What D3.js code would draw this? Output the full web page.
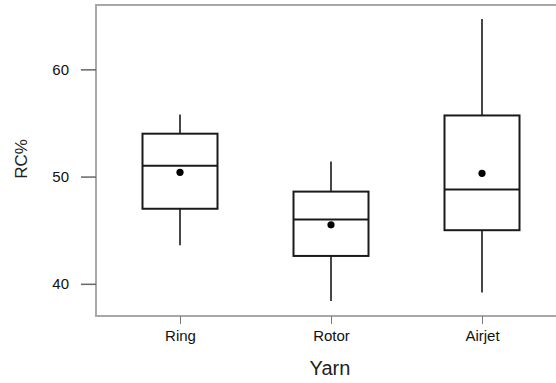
<!DOCTYPE html>
<html>
<head>
<meta charset="utf-8">
<script src="https://cdn.jsdelivr.net/npm/d3@7"></script>
<style>
  body { margin: 0; background: #fff; }
  svg { display: block; font-family: Arial, "Liberation Sans", sans-serif; }
</style>
</head>
<body>
<svg id="chart" width="556" height="383"></svg>
<script>
// Yarn types and their RC% box-plot statistics
var yarns = ["Ring", "Rotor", "Airjet"];
var whiskerLow = [43.6, 38.4, 39.2];
var q1 = [47.0, 42.6, 45.0];
var median = [51.0, 46.0, 48.8];
var q3 = [54.0, 48.6, 55.7];
var whiskerHigh = [55.8, 51.4, 64.7];
var mean = [50.4, 45.5, 50.3];
var yTicks = [40, 50, 60];

// note: "top" is taken by window.top, so the frame edges get other names
var svg = d3.select("#chart"),
    plotLeft = 96,
    plotRight = 556,
    plotTop = 5,
    plotBottom = 316,
    boxWidth = 75;

var data = yarns.map(function (name, i) {
    return {
        name: name,
        lo: whiskerLow[i],
        q1: q1[i],
        med: median[i],
        q3: q3[i],
        hi: whiskerHigh[i],
        mean: mean[i]
    };
});

var x = d3.scalePoint()
    .domain(yarns)
    .range([180, 482]);

var y = d3.scaleLinear()
    .domain([37, 66])
    .range([plotBottom, plotTop]);

// frame: left, top and bottom lines (right side is cut off)
var frameColor = "#a8a8a8";
svg.append("path")
    .attr("d", "M" + plotRight + "," + plotTop + "H" + plotLeft + "V" + plotBottom + "H" + plotRight)
    .attr("fill", "none")
    .attr("stroke", frameColor)
    .attr("stroke-width", 2);

// Y axis
var yAxis = svg.append("g")
    .attr("transform", "translate(" + plotLeft + ",0)")
    .call(d3.axisLeft(y).tickValues(yTicks).tickSize(15).tickPadding(12));
yAxis.select(".domain").remove();
yAxis.selectAll(".tick line").attr("stroke", "#666").attr("stroke-width", 1.5);
yAxis.selectAll(".tick text")
    .attr("fill", "#111")
    .style("font-size", "15px");

// X axis
var xAxis = svg.append("g")
    .attr("transform", "translate(0," + plotBottom + ")")
    .call(d3.axisBottom(x).tickSize(8).tickPadding(6));
xAxis.select(".domain").remove();
xAxis.selectAll(".tick line").attr("stroke", "#777").attr("stroke-width", 1);
xAxis.selectAll(".tick text")
    .attr("fill", "#111")
    .style("font-size", "15px");

// axis titles
svg.append("text")
    .attr("x", 330)
    .attr("y", 375)
    .attr("text-anchor", "middle")
    .attr("fill", "#222")
    .style("font-size", "20px")
    .text("Yarn");

svg.append("text")
    .attr("transform", "translate(27,159) rotate(-90)")
    .attr("text-anchor", "middle")
    .attr("fill", "#222")
    .style("font-size", "17px")
    .text("RC%");

// boxes
var boxes = svg.selectAll(".box")
    .data(data)
    .enter().append("g")
    .attr("class", "box");

var ink = "#1a1a1a";

boxes.append("line")
    .attr("x1", function (d) { return x(d.name); })
    .attr("x2", function (d) { return x(d.name); })
    .attr("y1", function (d) { return y(d.hi); })
    .attr("y2", function (d) { return y(d.q3); })
    .attr("stroke", ink)
    .attr("stroke-width", 1.6);

boxes.append("line")
    .attr("x1", function (d) { return x(d.name); })
    .attr("x2", function (d) { return x(d.name); })
    .attr("y1", function (d) { return y(d.q1); })
    .attr("y2", function (d) { return y(d.lo); })
    .attr("stroke", ink)
    .attr("stroke-width", 1.6);

boxes.append("rect")
    .attr("x", function (d) { return x(d.name) - boxWidth / 2; })
    .attr("y", function (d) { return y(d.q3); })
    .attr("width", boxWidth)
    .attr("height", function (d) { return y(d.q1) - y(d.q3); })
    .attr("fill", "#fff")
    .attr("stroke", ink)
    .attr("stroke-width", 2);

boxes.append("line")
    .attr("x1", function (d) { return x(d.name) - boxWidth / 2; })
    .attr("x2", function (d) { return x(d.name) + boxWidth / 2; })
    .attr("y1", function (d) { return y(d.med); })
    .attr("y2", function (d) { return y(d.med); })
    .attr("stroke", ink)
    .attr("stroke-width", 2);

boxes.append("circle")
    .attr("cx", function (d) { return x(d.name); })
    .attr("cy", function (d) { return y(d.mean); })
    .attr("r", 3.6)
    .attr("fill", "#000");
</script>
</body>
</html>
